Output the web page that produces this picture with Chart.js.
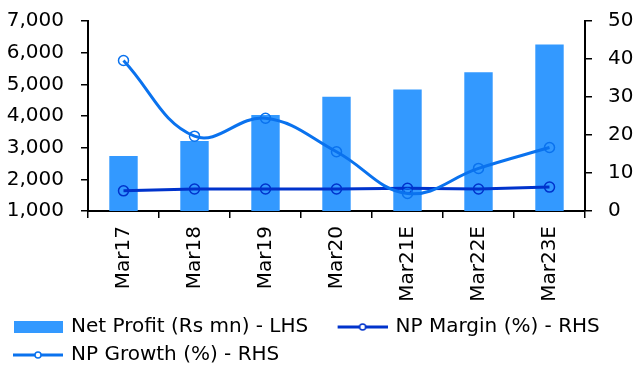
<!DOCTYPE html>
<html>
<head>
<meta charset="utf-8">
<script src="https://cdn.jsdelivr.net/npm/chart.js@4.4.1/dist/chart.umd.min.js"></script>
<style>
  html, body { margin: 0; padding: 0; background: #fff; }
  #wrap { width: 636px; height: 367px; }
</style>
</head>
<body>
<div id="wrap"><canvas id="c" width="636" height="367"></canvas></div>
<script>
// Fiscal years (E = estimate)
const categories = ['Mar17', 'Mar18', 'Mar19', 'Mar20', 'Mar21E', 'Mar22E', 'Mar23E'];
// Net profit, Rs mn (left axis)
const netProfit = [2740, 3210, 4030, 4610, 4840, 5380, 6260];
// Net profit margin, % (right axis)
const npMargin = [5.3, 5.8, 5.8, 5.8, 6.0, 5.8, 6.3];
// Net profit growth, % (right axis)
const npGrowth = [39.6, 19.7, 24.4, 15.6, 4.6, 11.2, 16.7];
// Axis ranges
const leftTicks = [1000, 2000, 3000, 4000, 5000, 6000, 7000];
const rightTicks = [0, 10, 20, 30, 40, 50];

const seriesNames = ['Net Profit (Rs mn) - LHS', 'NP Margin (%) - RHS', 'NP Growth (%) - RHS'];
const barColor = '#3399FF';
const marginColor = '#0033CC';
const growthColor = '#0A72EE';

Chart.defaults.font.family = "'DejaVu Sans', sans-serif";
Chart.defaults.color = '#000';

// Legend swatches: a filled block for the bars, a line with a small ring for the lines
function swatch(kind, color) {
  const c = document.createElement('canvas');
  c.width = 57; c.height = 14;
  const g = c.getContext('2d');
  if (kind === 'bar') {
    g.fillStyle = color;
    g.fillRect(8, 1, 49, 12);
  } else {
    g.strokeStyle = color;
    g.lineWidth = 3;
    g.beginPath(); g.moveTo(7, 7); g.lineTo(57, 7); g.stroke();
    g.lineWidth = 1.5;
    g.fillStyle = '#fff';
    g.beginPath(); g.arc(32, 7, 3, 0, Math.PI * 2); g.fill(); g.stroke();
  }
  return c;
}
const swatches = [swatch('bar', barColor), swatch('line', marginColor), swatch('line', growthColor)];

const tickFont = { size: 20 };

// keep the value axes from reserving extra room above and below the plot
const trimAxisPadding = (s) => { s.paddingTop = 10; s.paddingBottom = 10; };

new Chart(document.getElementById('c'), {
  data: {
    labels: categories,
    datasets: [
      {
        type: 'bar',
        label: seriesNames[0],
        data: netProfit,
        backgroundColor: barColor,
        borderWidth: 0,
        yAxisID: 'y',
        barPercentage: 0.4,
        categoryPercentage: 1,
        order: 3
      },
      {
        type: 'line',
        label: seriesNames[1],
        data: npMargin,
        borderColor: marginColor,
        borderWidth: 3,
        tension: 0,
        pointRadius: 5,
        pointBorderWidth: 1.5,
        pointBackgroundColor: 'rgba(0,0,0,0)',
        pointBorderColor: marginColor,
        yAxisID: 'y1',
        order: 2
      },
      {
        type: 'line',
        label: seriesNames[2],
        data: npGrowth,
        borderColor: growthColor,
        borderWidth: 3,
        tension: 0.4,
        pointRadius: 5,
        pointBorderWidth: 1.5,
        pointBackgroundColor: 'rgba(0,0,0,0)',
        pointBorderColor: growthColor,
        yAxisID: 'y1',
        order: 1
      }
    ]
  },
  options: {
    responsive: false,
    animation: false,
    layout: { padding: { top: 21, left: 0, right: 0, bottom: 0 } },
    plugins: {
      tooltip: { enabled: false },
      legend: {
        position: 'bottom',
        align: 'start',
        maxHeight: 58,
        labels: {
          font: { size: 20 },
          color: '#000',
          padding: 8,
          usePointStyle: true,
          pointStyleWidth: 53,
          boxHeight: 14,
          // the first entry gets a little extra room before the next one
          generateLabels: (chart) => seriesNames.map((name, i) => ({
            text: i === 0 ? name + '\u2002 ' : name,
            pointStyle: swatches[i],
            fillStyle: 'rgba(0,0,0,0)',
            strokeStyle: 'rgba(0,0,0,0)',
            lineWidth: 0,
            fontColor: '#000',
            hidden: false,
            datasetIndex: i
          }))
        }
      }
    },
    scales: {
      x: {
        offset: true,
        grid: {
          offset: true,
          drawOnChartArea: false,
          drawTicks: true,
          tickLength: 7,
          color: '#000',
          lineWidth: 1.5
        },
        border: { display: true, color: '#000', width: 2 },
        ticks: {
          font: tickFont,
          maxRotation: 90,
          minRotation: 90,
          autoSkip: false,
          padding: 8
        },
        afterFit: (s) => { s.height = 98; }
      },
      y: {
        position: 'left',
        min: leftTicks[0],
        max: leftTicks[leftTicks.length - 1],
        afterBuildTicks: (s) => { s.ticks = leftTicks.map(v => ({ value: v })); },
        grid: {
          drawOnChartArea: false,
          drawTicks: true,
          tickLength: 7,
          color: '#000',
          lineWidth: 1.5
        },
        border: { display: true, color: '#000', width: 2 },
        ticks: {
          font: tickFont,
          padding: 17,
          callback: (v) => v.toLocaleString('en-US')
        },
        afterFit: (s) => { s.width = 88; trimAxisPadding(s); }
      },
      y1: {
        position: 'right',
        min: rightTicks[0],
        max: rightTicks[rightTicks.length - 1],
        afterBuildTicks: (s) => { s.ticks = rightTicks.map(v => ({ value: v })); },
        grid: {
          drawOnChartArea: false,
          drawTicks: true,
          tickLength: 7,
          color: '#000',
          lineWidth: 1.5
        },
        border: { display: true, color: '#000', width: 2 },
        ticks: {
          font: tickFont,
          padding: 16,
          callback: (v) => String(v)
        },
        afterFit: (s) => { s.width = 51; trimAxisPadding(s); }
      }
    }
  }
});
</script>
</body>
</html>
